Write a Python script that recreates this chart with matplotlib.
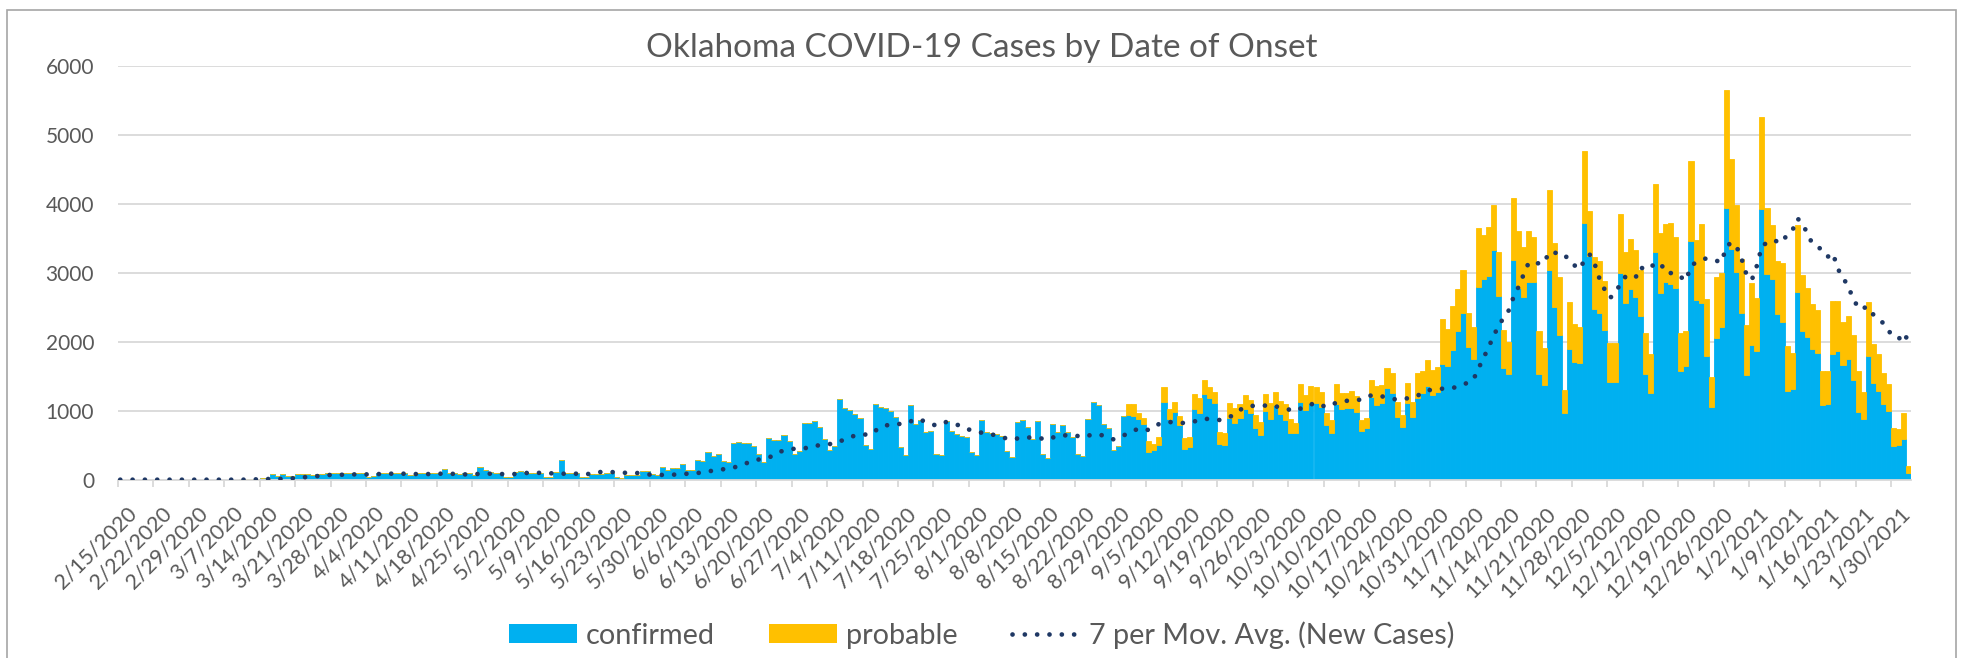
import numpy as np
import pandas as pd
import matplotlib
matplotlib.use("Agg")
import matplotlib.pyplot as plt
import matplotlib.transforms as mtransforms
from matplotlib.patches import Patch, Rectangle
from matplotlib.lines import Line2D

plt.rcParams['font.family'] = ['Lato', 'DejaVu Sans']

# daily categories 2/15/2020 .. 2/2/2021
dates = pd.date_range('2020-02-15', '2021-02-02', freq='D')

# confirmed cases by onset date
confirmed = [
    0, 0, 0, 0, 0, 0, 0, 0, 0, 0, 0, 0, 0, 0, 0, 0, 0, 0, 0, 0,
    0, 1, 2, 2, 3, 5, 10, 15, 25, 30,
    80, 58, 85, 50, 50, 80, 78, 82, 75, 80,
    85, 92, 95, 96, 94, 98, 95, 92, 90, 45,
    48, 100, 98, 102, 100, 98, 95, 70, 72, 100,
    102, 98, 96, 92, 155, 100, 92, 88, 98, 96,
    65, 190, 135, 105, 102, 100, 35, 32, 118, 120,
    115, 97, 95, 100, 35, 35, 110, 285, 92, 100,
    100, 43, 40, 87, 82, 82, 100, 100, 35, 30,
    68, 68, 68, 120, 120, 82, 75, 184, 145, 174,
    174, 227, 140, 140, 280, 275, 405, 348, 377, 275,
    256, 527, 541, 527, 527, 493, 367, 261, 600, 570,
    580, 647, 560, 372, 420, 826, 821, 850, 763, 585,
    430, 493, 1164, 1034, 1010, 947, 894, 502, 449, 1092,
    1060, 1034, 995, 903, 478, 362, 1077, 807, 860, 686,
    705, 377, 353, 850, 710, 657, 628, 623, 396, 357,
    865, 696, 681, 662, 640, 415, 324, 840, 860, 763,
    585, 850, 367, 309, 807, 696, 792, 696, 614, 372,
    343, 874, 1126, 1087, 807, 744, 430, 483, 923,
    937, 930, 874, 812, 406, 430, 507, 1130, 874, 985,
    792, 440, 478, 1019, 961, 1237, 1179, 1106, 517, 502,
    889, 826, 889, 1019, 961, 744, 647, 1000, 874, 1082,
    952, 865, 681, 671, 1130, 1010, 1116, 1106, 1048, 792,
    681, 1097, 1019, 1034, 1034, 986, 710, 744, 1203, 1082,
    1106, 1324, 1251, 913, 763, 1106, 913, 1179, 1251, 1357,
    1227, 1275, 1676, 1652, 1879, 2159, 2420, 1928, 1749, 2797,
    2903, 2952, 3329, 2662, 1623, 1531, 3184, 2773, 2652, 2860,
    2870, 1531, 1367, 3039, 2498, 2097, 971, 1889, 1705, 1686,
    3725, 3242, 2473, 2420, 2169, 1420, 1420, 2990, 2556, 2763,
    2652, 2377, 1527, 1261, 3304, 2710, 2860, 2831, 2783, 1580,
    1652, 3464, 2604, 2565, 1797, 1058, 2058, 2217, 3932, 3338,
    3014, 2420, 1512, 1952, 1865, 3918, 2981, 2903, 2396, 2290,
    1290, 1309, 2725, 2159, 2072, 1889, 1831, 1082, 1097, 1816,
    1865, 1662, 1744, 1444, 986, 874, 1797, 1406, 1290, 1097,
    1000, 493, 502, 585, 92,
]

# probable cases (none reported before 9/1/2020)
probable = [0] * 199 + [
    160, 171, 97, 77, 154, 87, 106, 208, 145, 145,
    131, 159, 145, 222, 218, 207, 169, 169, 169, 169,
    217, 208, 203, 208, 194, 193, 194, 241, 232, 193,
    183, 227, 193, 155, 256, 217, 241, 237, 227, 169,
    184, 289, 232, 227, 256, 231, 155, 155, 241, 280,
    266, 290, 300, 217, 174, 290, 217, 372, 324, 377,
    362, 353, 648, 527, 643, 599, 619, 483, 468, 846,
    643, 715, 652, 642, 546, 469, 893, 831, 725, 744,
    652, 624, 546, 1159, 927, 835, 329, 691, 551, 522,
    1043, 657, 759, 749, 715, 566, 556, 855, 748, 725,
    677, 662, 603, 560, 981, 860, 845, 894, 729, 541,
    503, 1159, 869, 1140, 821, 435, 884, 783, 1715, 1309,
    967, 780, 730, 893, 773, 1343, 951, 788, 773, 845,
    647, 532, 966, 807, 701, 657, 628, 498, 483, 773,
    724, 628, 633, 653, 589, 401, 783, 560, 526, 444,
    386, 261, 227, 376, 106,
]

# 7 per moving average of "New Cases" (separate series)
ma_day = [0, 24, 27, 29, 32, 34, 36, 39, 41, 44, 46, 49, 51, 53, 56, 58, 61, 63, 65, 68,
          70, 73, 75, 78, 80, 82, 85, 87, 90, 92, 94, 97, 99, 102, 104, 106, 109, 111, 114, 116,
          118, 121, 123, 125, 128, 130, 132, 135, 137, 139, 141, 144, 146, 148, 150, 152, 155, 157, 159, 161,
          163, 166, 168, 170, 172, 174, 176, 178, 181, 183, 185, 188, 190, 192, 194, 196, 199, 201, 203, 205,
          207, 210, 212, 214, 217, 219, 221, 223, 225, 227, 229, 232, 234, 236, 238, 240, 243, 245, 247, 249,
          252, 254, 256, 258, 260, 263, 265, 267, 268, 269, 270, 271, 272, 274, 275, 276, 277, 278, 280, 281,
          282, 285, 286, 288, 289, 290, 291, 292, 293, 294, 295, 296, 297, 299, 300, 301, 303, 304, 305, 307,
          309, 310, 311, 313, 315, 316, 317, 318, 319, 320, 321, 322, 323, 324, 326, 328, 329, 330, 331, 332,
          333, 334, 336, 337, 338, 339, 340, 341, 342, 343, 345, 346, 348, 349, 351, 352, 353]
ma_value = [0, 0, 5, 10, 12, 20, 34, 53, 68, 72, 77, 77, 82, 87, 87, 82, 82, 87, 87, 77,
            82, 87, 82, 82, 97, 101, 92, 87, 87, 77, 111, 111, 101, 97, 77, 68, 72, 82, 97, 121,
            140, 174, 222, 280, 319, 401, 444, 454, 488, 512, 522, 618, 657, 652, 763, 802, 812, 879, 845, 783,
            836, 780, 710, 681, 657, 614, 580, 614, 609, 580, 638, 647, 618, 657, 643, 585, 671, 744, 720, 807,
            836, 821, 845, 884, 865, 908, 1014, 1072, 1063, 1087, 1043, 995, 1072, 1111, 1053, 1116, 1155, 1159, 1227, 1208,
            1159, 1179, 1217, 1295, 1314, 1329, 1377, 1440, 1604, 1754, 1913, 2072, 2232, 2450, 2650, 2800, 2980, 3150, 3135, 3140,
            3300, 3271, 3164, 3050, 3184, 3266, 3126, 2900, 2750, 2633, 2700, 2831, 2937, 2918, 3082, 3039, 3130, 3140, 3000, 2990,
            2884, 3100, 3150, 3208, 3174, 3150, 3380, 3440, 3377, 3200, 2960, 2894, 3100, 3391, 3473, 3435, 3560, 3609, 3787, 3715,
            3560, 3415, 3329, 3232, 3285, 3050, 2942, 2787, 2643, 2478, 2502, 2391, 2266, 2150, 2039, 2130, 1990]

BLUE = '#00B0F0'
YELLOW = '#FFC000'
NAVY = '#1F3864'
GRID = '#D9D9D9'
TXT = '#595959'

W, H = 1963, 658
fig = plt.figure(figsize=(W / 100, H / 100), dpi=100)
ax = fig.add_axes([117.7 / W, 1 - 479.7 / H, (1911.4 - 117.7) / W, (479.7 - 65.7) / H])

x = np.arange(len(dates))
# thin edge in the face colour closes the hairline seams between touching bars
ax.bar(x, confirmed, width=1.0, color=BLUE, edgecolor=BLUE, linewidth=0.6, zorder=2)
ax.bar(x, probable, bottom=confirmed, width=1.0, color=YELLOW, edgecolor=YELLOW,
       linewidth=0.6, zorder=2)
dots = (0, (0.01, 2.6))
ax.plot(ma_day, ma_value, color=NAVY, lw=3.4, linestyle=dots,
        dash_capstyle='round', zorder=3)

ax.set_xlim(-0.5, len(dates) - 0.5)
ax.set_ylim(0, 6000)
ax.set_yticks(range(0, 7000, 1000))
ax.yaxis.grid(True, color=GRID, lw=1.3, zorder=0)
ax.set_axisbelow(True)
for s in ['top', 'right', 'left']:
    ax.spines[s].set_visible(False)
ax.spines['bottom'].set_color(GRID)
ax.spines['bottom'].set_linewidth(1.3)

tick_idx = np.arange(0, len(dates), 7)
ax.set_xticks(tick_idx)
ax.set_xticklabels([f"{d.month}/{d.day}/{d.year}" for d in dates[tick_idx]])
ax.set_xticks(np.arange(-0.5, len(dates), 7), minor=True)
ax.tick_params(axis='x', which='major', length=0, pad=17, labelsize=15.5, labelcolor=TXT)
ax.tick_params(axis='x', which='minor', length=5, width=1.3, color=GRID)
ax.tick_params(axis='y', length=0, pad=17, labelsize=15, labelcolor=TXT)

shift = mtransforms.ScaledTranslation(6 / 100, 0, fig.dpi_scale_trans)
for lab in ax.get_xticklabels():
    lab.set_rotation(45)
    lab.set_ha('right')
    lab.set_va('top')
    lab.set_rotation_mode('anchor')
    lab.set_transform(lab.get_transform() + shift)

fig.text(0.5, 1 - 48 / H, 'Oklahoma COVID-19 Cases by Date of Onset',
         ha='center', va='center', fontsize=24, color=TXT)

handles = [Patch(facecolor=BLUE), Patch(facecolor=YELLOW),
           Line2D([0], [0], color=NAVY, lw=3.4, linestyle=dots, dash_capstyle='round')]
fig.legend(handles, ['confirmed', 'probable', '7 per Mov. Avg. (New Cases)'],
           loc='center', bbox_to_anchor=(0.5, 1 - 635 / H), ncol=3, frameon=False,
           fontsize=20.8, labelcolor=TXT, handlelength=2.35, handleheight=0.62,
           handletextpad=0.3, columnspacing=1.9)

# chart frame
fig.add_artist(Rectangle((7 / W, -0.05), (1956 - 7) / W, 1.05 - 10 / H,
                         transform=fig.transFigure, fill=False, edgecolor='#A6A6A6', lw=1.2))

fig.savefig('out.png', dpi=100)
